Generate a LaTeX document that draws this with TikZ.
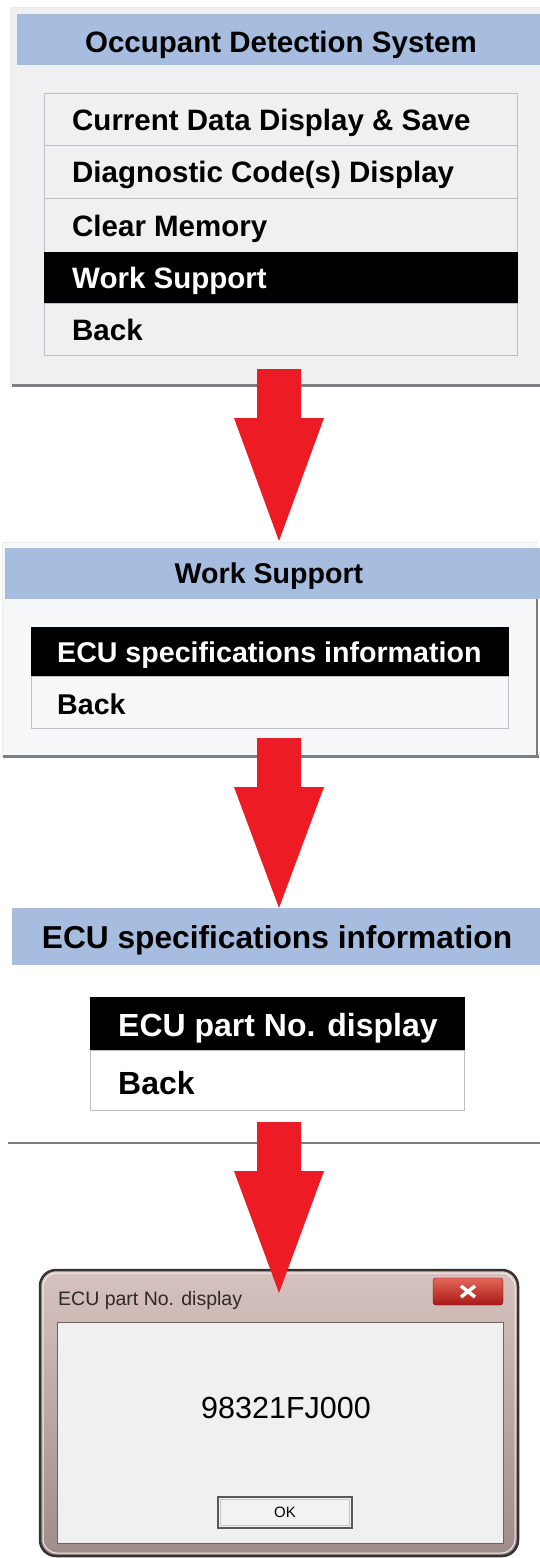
\documentclass[tikz,border=0pt]{standalone}
\usepackage{fontspec}
\setmainfont{Liberation Sans}
\usetikzlibrary{calc}

\definecolor{titleblue}{RGB}{166,189,224}
\definecolor{panelgray}{RGB}{239,240,241}
\definecolor{panellight}{RGB}{246,247,249}
\definecolor{rowgray}{RGB}{240,240,240}
\definecolor{rowline}{RGB}{190,190,196}
\definecolor{arrowred}{RGB}{237,28,36}
\definecolor{edgegray}{RGB}{125,125,130}
\definecolor{frametop}{RGB}{214,194,190}
\definecolor{framebot}{RGB}{160,140,136}
\definecolor{clientgray}{RGB}{240,240,240}
\definecolor{wintext}{RGB}{48,40,40}
\definecolor{closetop}{RGB}{226,104,88}
\definecolor{closebot}{RGB}{170,24,22}

% font styles carry their own cap height, so a node's centre is the centre of its capitals
\tikzset{
  menufont/.style={font=\bfseries\fontsize{29.5}{31}\selectfont, text height=21.1pt, text depth=0pt},
  midfont/.style={font=\bfseries\fontsize{28.6}{30}\selectfont, text height=20.5pt, text depth=0pt},
  bigfont/.style={font=\bfseries\fontsize{32}{34}\selectfont, text height=22.9pt, text depth=0pt},
  headfont/.style={font=\bfseries\fontsize{31.7}{33}\selectfont, text height=22.7pt, text depth=0pt},
  numfont/.style={font=\fontsize{30.5}{32}\selectfont, text height=21.8pt, text depth=0pt},
  winfont/.style={font=\fontsize{19.5}{21}\selectfont, text height=14pt, text depth=0pt},
  okfont/.style={font=\fontsize{15}{16}\selectfont, text height=10.7pt, text depth=0pt},
  rowbox/.style={rectangle, draw=rowline, line width=1pt, fill=rowgray,
    inner sep=0pt, anchor=north west},
  rowsel/.style={rectangle, fill=black, draw=black, inner sep=0pt, anchor=north west},
  rowtext/.style={anchor=west, inner sep=0pt},
  seltext/.style={rowtext, text=white},
  titlebar/.style={rectangle, fill=titleblue, inner sep=0pt, anchor=north west},
  titletext/.style={inner sep=0pt},
  pics/blockarrow/.style={code={
    \fill[arrowred] (-22,0) -- (22,0) -- (22,49) -- (45,49) -- (0,#1)
      -- (-45,49) -- (-22,49) -- cycle;}}
}

\begin{document}
\begin{tikzpicture}[x=1pt,y=-1pt]
\useasboundingbox (0,0) rectangle (540,1558);
\fill[white] (0,0) rectangle (540,1558);

% ---------- first menu ----------
\fill[panelgray] (10,7) rectangle (540,386);
\draw[white!85!gray, line width=0.8pt] (10.5,386) -- (10.5,7.5) -- (540,7.5);
\draw[edgegray, line width=3pt] (12,385) -- (540,385);
\node[titlebar, minimum width=523pt, minimum height=51pt] (t1) at (17,14) {};
\node[titletext, menufont] (t1t) at (281,42) {Occupant Detection System};

\node[rowbox, minimum width=473pt, minimum height=52pt] (r11) at (44,93) {};
\node[rowtext, menufont] (r11t) at ([xshift=28pt]r11.west) {Current Data Display \& Save};
\node[rowbox, minimum width=473pt, minimum height=53pt] (r12) at (44,145) {};
\node[rowtext, menufont] (r12t) at ([xshift=28pt]r12.west) {Diagnostic Code(s) Display};
\node[rowbox, minimum width=473pt, minimum height=54pt] (r13) at (44,198) {};
\node[rowtext, menufont] (r13t) at ([xshift=28pt]r13.west) {Clear Memory};
\node[rowsel, minimum width=473pt, minimum height=51pt] (r14) at (44,252) {};
\node[seltext, menufont] (r14t) at ([xshift=28pt]r14.west) {Work Support};
\node[rowbox, minimum width=473pt, minimum height=52pt] (r15) at (44,303) {};
\node[rowtext, menufont] (r15t) at ([xshift=28pt]r15.west) {Back};

% ---------- second menu ----------
\fill[panellight] (2,542) rectangle (538,757);
\draw[white!85!gray, line width=0.8pt] (2.5,757) -- (2.5,542.5) -- (538,542.5);
\draw[edgegray, line width=1.2pt] (537,548) -- (537,757);
\draw[edgegray, line width=3pt] (3,756) -- (538.5,756);
\node[titlebar, minimum width=535pt, minimum height=51pt] (t2) at (5,548) {};
\node[titletext, midfont] (t2t) at (269,573.5) {Work Support};

\node[rowsel, minimum width=477pt, minimum height=49pt] (r21) at (31,627) {};
\node[seltext, midfont] (r21t) at ([xshift=26pt,yshift=-1pt]r21.west) {ECU specifications information};
\node[rowbox, fill=panellight, minimum width=477pt, minimum height=52pt] (r22) at (31,676) {};
\node[rowtext, midfont] (r22t) at ([xshift=26pt,yshift=-2pt]r22.west) {Back};

% ---------- third menu ----------
\node[titlebar, minimum width=528pt, minimum height=57pt] (t3) at (12,908) {};
\node[titletext, headfont] (t3t) at (277,937) {ECU specifications information};

\node[rowsel, minimum width=374pt, minimum height=53pt] (r31) at (90,997) {};
\node[seltext, bigfont] (r31t) at ([xshift=28pt,yshift=-1.5pt]r31.west) {ECU part No. display};
\node[rowbox, fill=white, minimum width=374pt, minimum height=60pt] (r32) at (90,1050) {};
\node[rowtext, bigfont] (r32t) at ([xshift=28pt,yshift=-2.5pt]r32.west) {Back};
\draw[edgegray, line width=2.5pt] (8,1143) -- (540,1143);

% ---------- result window ----------
\shade[top color=frametop, bottom color=framebot, rounded corners=16pt]
  (40,1270) rectangle (518,1556);
\draw[white!70!frametop, line width=1pt, rounded corners=14pt]
  (43,1273) rectangle (515,1553);
\draw[black!80, line width=2.5pt, rounded corners=16pt]
  (40,1270) rectangle (518,1556);
\node[rectangle, fill=clientgray, draw=framebot!70!black, line width=0.8pt,
  inner sep=0pt, anchor=north west, minimum width=446pt, minimum height=221pt]
  (win) at (57,1322) {};
\node[anchor=west, inner sep=0pt, text=wintext, winfont] (wint) at (58,1298) {ECU part No. display};
\shade[top color=closetop, bottom color=closebot, rounded corners=3pt, draw=closebot!70!black]
  (433,1278) rectangle (503,1305);
\coordinate (xc) at (468,1291.5);
\draw[white, line width=3.5pt]
  ($(xc)+(-7,-5.5)$) -- ($(xc)+(7,5.5)$) ($(xc)+(-7,5.5)$) -- ($(xc)+(7,-5.5)$);
\node[titletext, numfont] (num) at (286,1408) {98321FJ000};
\node[rectangle, fill=white!90!gray, draw=black!65, line width=1.6pt,
  inner sep=0pt, minimum width=134pt, minimum height=31pt] (ok) at (285,1512.5) {};
\draw[white!55!gray, line width=0.8pt] ([shift={(3pt,3pt)}]ok.south west) rectangle ([shift={(-3pt,-3pt)}]ok.north east);
\node[titletext, okfont] (okt) at (ok.center) {OK};

% ---------- arrows ----------
\coordinate (a1) at (279,369);
\coordinate (a2) at (279,738);
\coordinate (a3) at (279,1122);
\pic at (a1) {blockarrow=172};
\pic at (a2) {blockarrow=170};
\pic at (a3) {blockarrow=171};
\end{tikzpicture}
\end{document}
